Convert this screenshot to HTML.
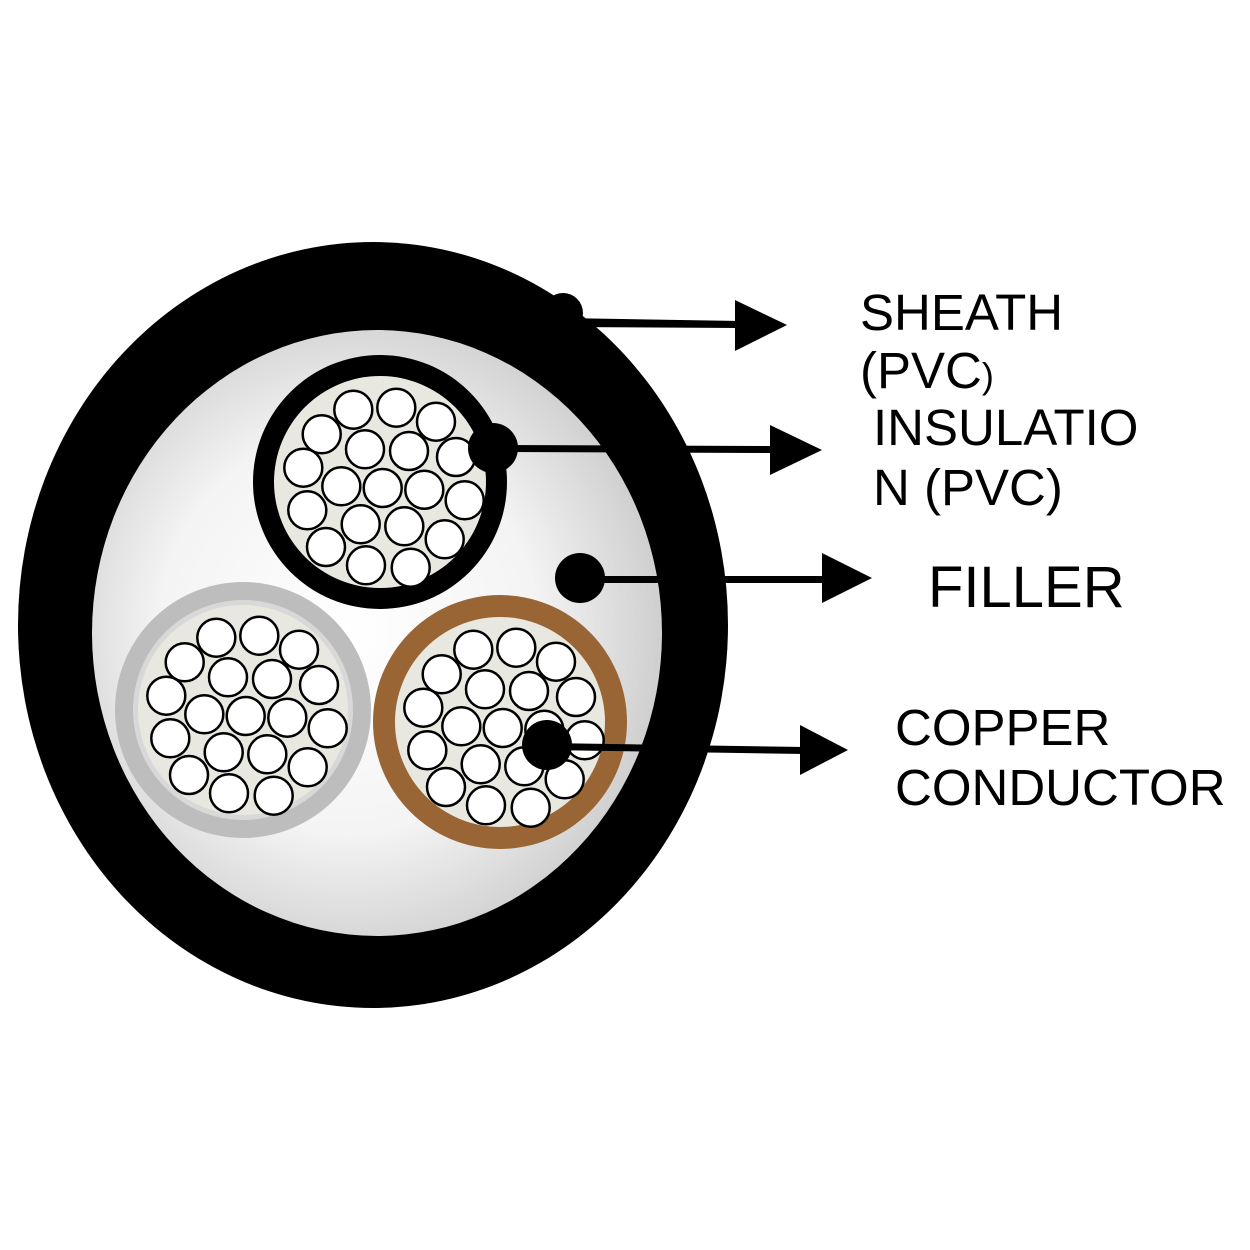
<!DOCTYPE html>
<html><head><meta charset="utf-8"><style>body{margin:0;background:#fff}svg{display:block}</style></head><body>
<svg width="1250" height="1250" viewBox="0 0 1250 1250" xmlns="http://www.w3.org/2000/svg">
<defs>
<radialGradient id="fg" cx="0.45" cy="0.5" r="0.55">
<stop offset="0" stop-color="#ffffff"/><stop offset="0.6" stop-color="#f4f4f4"/><stop offset="1" stop-color="#cfcfcf"/>
</radialGradient>
<g id="strands" fill="#fff" stroke="#000" stroke-width="2.5">
<circle cx="-26.7" cy="-72.3" r="19"/><circle cx="16.3" cy="-74.3" r="19"/><circle cx="56" cy="-60.3" r="19"/>
<circle cx="-58.3" cy="-47.7" r="19"/><circle cx="-15" cy="-32.7" r="19"/><circle cx="29" cy="-31" r="19"/>
<circle cx="76" cy="-25" r="19"/><circle cx="-76.7" cy="-14.3" r="19"/><circle cx="-38.7" cy="4.3" r="19"/>
<circle cx="2.7" cy="6" r="19"/><circle cx="44.3" cy="7.7" r="19"/><circle cx="84.7" cy="18.3" r="19"/>
<circle cx="-72.7" cy="28.3" r="19"/><circle cx="-19.3" cy="42.3" r="19"/><circle cx="24.3" cy="44.3" r="19"/>
<circle cx="64.7" cy="57.3" r="19"/><circle cx="-54" cy="65" r="19"/><circle cx="-14" cy="83.3" r="19"/>
<circle cx="30.7" cy="85.7" r="19"/>
</g>
</defs>
<ellipse cx="373" cy="625" rx="355" ry="383" fill="#000"/>
<ellipse cx="377" cy="633" rx="285" ry="303" fill="url(#fg)"/>
<circle cx="380" cy="482" r="127" fill="#000"/>
<circle cx="380" cy="482" r="106" fill="#e8e8e0"/>
<use href="#strands" x="380" y="482"/>
<circle cx="243" cy="710" r="128" fill="#bdbdbd"/>
<circle cx="243" cy="710" r="110" fill="#d8d8d8"/>
<circle cx="243" cy="710" r="105" fill="#e8e8e0"/>
<use href="#strands" x="243" y="710"/>
<circle cx="500" cy="722" r="127" fill="#9a6535"/>
<circle cx="500" cy="722" r="105" fill="#e8e8e0"/>
<use href="#strands" x="500" y="722"/>
<g fill="#000" stroke="none">
<circle cx="563" cy="313" r="20"/>
<polygon points="563,318 740,321 740,328 563,327"/>
<polygon points="735,300 787,325 735,351"/>
<circle cx="493" cy="448" r="25"/>
<polygon points="493,445 775,446 775,453 493,452"/>
<polygon points="770,425 822,450 770,475"/>
<circle cx="580" cy="578" r="25"/>
<rect x="580" y="576" width="245" height="7"/>
<polygon points="822,553 872,578 822,603"/>
<circle cx="547" cy="745" r="25"/>
<polygon points="547,743 805,747 805,754 547,750"/>
<polygon points="800,725 848,750 800,775"/>
</g>
<g font-family="Liberation Sans, sans-serif" font-size="51" fill="#000">
<text x="860" y="330">SHEATH</text>
<text x="860" y="388">(PVC<tspan font-size="36">)</tspan></text>
<text x="873" y="445">INSULATIO</text>
<text x="873" y="505">N (PVC)</text>
<text x="928" y="607" font-size="58">FILLER</text>
<text x="895" y="745">COPPER</text>
<text x="895" y="805">CONDUCTOR</text>
</g>
</svg>
</body></html>
